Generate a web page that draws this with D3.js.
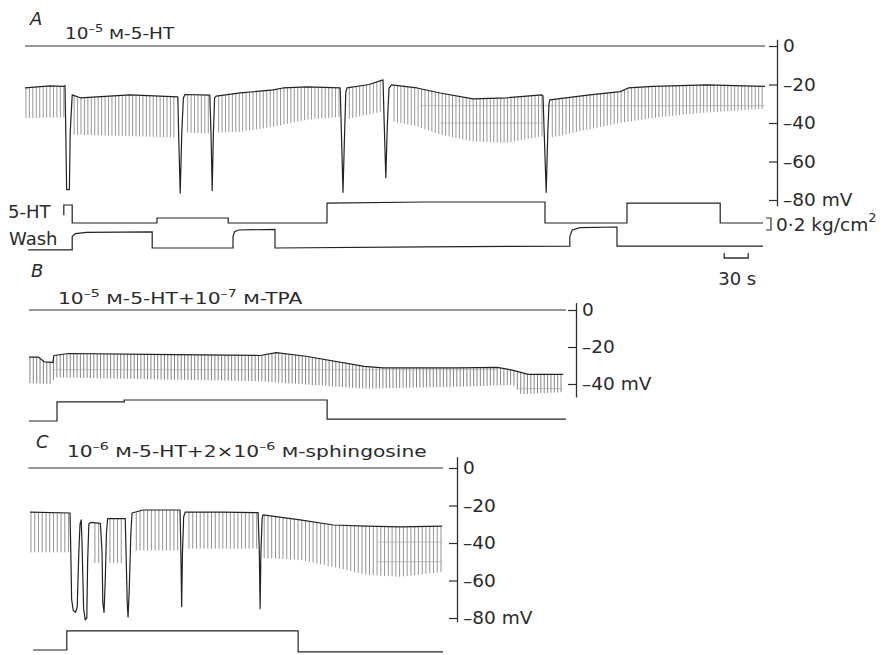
<!DOCTYPE html>
<html><head><meta charset="utf-8">
<script src="https://cdn.jsdelivr.net/npm/d3@7/dist/d3.min.js"></script>
<style>
body{margin:0;background:#fff;}
svg text{font-family:"DejaVu Sans","Liberation Sans",Arial,sans-serif;fill:#2a2a2a;}
</style></head><body>
<svg id="fig" width="890" height="655"></svg>
<script>
// ---------------- DATA (time in s, potential in mV, pressure in kg/cm2) ----------------
// Panel A : 10^-5 M-5-HT
const aTop = [[0,-21.8],[31,-20.7],[47.5,-21],[50,-20.5],[51,-45],[52,-74.6],[55.5,-74.6],[56.5,-45],[59,-25.4],[69,-26.9],[131,-25.4],[191,-26.4],
  [192,-45],[194,-76.5],[196,-45],[198,-27],[200,-25.2],[231,-25.5],[232.5,-45],[234,-75],[235.5,-45],[237,-27],[239,-26],
  [269,-24.4],[310,-22.8],[322.5,-21.8],[352.5,-21.2],[394,-21.8],[395.5,-45],[397.5,-76],[399.5,-45],[401,-24],[402.5,-21.8],
  [430,-20],[447.5,-17.6],[449,-40],[451,-68.4],[453,-40],[455,-22],[458,-20.2],[490,-21.8],[519,-24.4],[560,-27.5],[602,-26.9],[646,-25.4],
  [647.5,-26],[649,-45],[651.5,-76],[653.5,-45],[655,-30],[656,-28],[706,-25.4],[744,-23.7],[754,-21.8],[785,-21],[852,-20.2],[925,-21]];
const aBot = [[0,-37.5],[50,-37],[59,-46],[191,-47.5],[200,-45],[231,-45.5],[239,-45],[269,-44.6],[310,-42],[352.5,-38.3],[394,-36.8],
  [402.5,-38],[447.5,-34],[458,-39],[490,-41.8],[519,-46],[560,-49.6],[602,-50.3],[646,-47],[656,-47.7],[702,-43.5],[744,-40],[785,-37.3],[848,-34.7],[925,-32.5]];
const aGaps = [[50,59],[191,200],[231,239],[394,402.5],[447.5,458],[647.5,656]];
const aHLines = [[494,925,-31],[519,647,-40]];
const a5HT = [[48.5,0.13],[48.5,0.3],[59,0.3],[59,0],[165,0],[165,0.083],[254,0.083],[254,0],[377.5,0],[377.5,0.33],[500,0.35],[650,0.35],[650,0],
  [752.5,0],[752.5,0.33],[869,0.33],[869,0],[922.5,0]];
const aWash = [[4,-0.03],[59,-0.03],[59,0.19],[63,0.24],[77,0.26],[159,0.27],[159,0],[260,0],[260,0.19],[262,0.27],[267,0.3],[312.5,0.31],
  [312.5,0],[500,0.02],[681,0.03],[681,0.19],[684,0.3],[694,0.34],[740,0.35],[740,0.03],[922.5,0.03]];

// Panel B : 10^-5 M-5-HT + 10^-7 M-TPA
const bTop = [[0,-25.5],[12,-25.5],[19,-28],[30,-28.3],[31,-24.6],[50,-23.5],[150,-24],[289,-24.6],[309,-23],[346,-25],[419,-30.5],
  [442.5,-31.3],[537.5,-31.3],[585,-31],[605,-32.6],[624,-34.8],[667.5,-34.8]];
const bBot = [[0,-39.6],[30,-40],[31,-36.4],[150,-37.4],[289,-38.5],[419,-42.5],[537.5,-41.5],[605,-40.5],[615,-45.5],[667.5,-44.4]];
const bGaps = [];
const bHLines = [[31,585,-32.3],[612,667,-42.5]];
const bDrug = [[0,0],[35,0],[35,0.32],[119,0.32],[119,0.35],[372.5,0.35],[372.5,0.03],[671,0.03]];

// Panel C : 10^-6 M-5-HT + 2x10^-6 M-sphingosine
const cTop = [[0,-23.5],[50,-24],[51,-45],[52,-70],[54,-76],[57,-77],[59,-74],[61,-45],[62.5,-30],[64,-27.7],
  [65,-40],[67,-75],[69,-81],[71,-80],[72,-50],[73.5,-30],[76,-29],[88,-29.5],[90,-45],[91,-72],[92.5,-77],[94,-60],[95.5,-35],[97,-27],
  [119,-27],[120,-45],[121.5,-72],[122.5,-79.5],[124,-65],[126,-35],[127.5,-24],[141,-22.4],[187.5,-22.4],[188.5,-45],[189.5,-74],
  [190.5,-45],[192,-26],[194,-23.5],[240,-23.5],[285,-23.8],[286.5,-45],[287.5,-75],[288.5,-45],[290,-27],[291,-25],[337.5,-27.7],
  [379,-30.4],[421,-31],[462.5,-31.4],[515,-31]];
const cBot = [[0,-45],[50,-45],[76,-50.7],[88,-50.7],[97,-50.7],[119,-50.7],[127.5,-44],[187.5,-44],[194,-43],[285,-43],[291,-48],
  [337.5,-49],[379,-52.8],[421,-57],[462.5,-58],[515,-55.5]];
const cGaps = [[50,76],[88,97],[119,127.5],[187.5,194],[285,291]];
const cHLines = [[434,515,-39.5],[434,515,-50]];
const cDrug = [[4,0],[46,0],[46,0.32],[335,0.32],[335,-0.03],[516,-0.03]];

const mvTicksA = [0,-20,-40,-60,-80];
const mvTicksB = [0,-20,-40];
const mvTicksC = [0,-20,-40,-60,-80];

// ---------------- DRAWING ----------------
const svg = d3.select("#fig");
const INK = "#2e2e2e";

function rich(sel, parts, fs){
  let shift = 0;
  parts.forEach(p=>{
    const ts = sel.append("tspan").text(p.t);
    let target = 0, size = fs;
    if (p.sup){ target = -fs*0.45; size = fs*0.7; }
    if (p.sc){ size = fs*0.95; }
    ts.attr("font-size", size);
    if (target !== shift){ ts.attr("dy", target - shift); shift = target; }
  });
  return sel;
}
function fitWidth(sel, x0, width){
  const w = sel.node().getBBox().width;
  const s = width / w;
  sel.attr("transform", `translate(${x0},0) scale(${s},1) translate(${-x0},0)`);
}

function panel(cfg){
  const g = svg.append("g");
  const x = cfg.x, y = cfg.y;
  g.append("line").attr("x1", x(cfg.t0)).attr("x2", x(cfg.t1)).attr("y1", y(0)).attr("y2", y(0))
    .attr("stroke", INK).attr("stroke-width", 1.1);
  const topS = d3.scaleLinear().domain(cfg.top.map(d=>d[0])).range(cfg.top.map(d=>d[1]));
  const botS = d3.scaleLinear().domain(cfg.bot.map(d=>d[0])).range(cfg.bot.map(d=>d[1]));
  const tStart = cfg.top[0][0], tEnd = cfg.top[cfg.top.length-1][0];
  const pulses = d3.range(tStart + 1.2, tEnd, cfg.period).filter(t => !cfg.gaps.some(gp => t > gp[0]-0.8 && t < gp[1]+0.8));
  g.append("g").selectAll("line").data(pulses).join("line")
    .attr("x1", d=>x(d)).attr("x2", d=>x(d))
    .attr("y1", d=>y(topS(d))).attr("y2", d=>y(botS(d)))
    .attr("stroke", cfg.pulseColor).attr("stroke-width", 0.8);
  g.append("g").selectAll("line").data(cfg.hl).join("line")
    .attr("x1", d=>x(d[0])).attr("x2", d=>x(d[1])).attr("y1", d=>y(d[2])).attr("y2", d=>y(d[2]))
    .attr("stroke", "#a0a0a0").attr("stroke-width", 0.6);
  g.append("path").datum(cfg.top)
    .attr("d", d3.line().x(d=>x(d[0])).y(d=>y(d[1])))
    .attr("fill","none").attr("stroke", "#222").attr("stroke-width", 1.2).attr("stroke-linejoin","round");
  const ext = cfg.axExt;
  const ys = d3.scaleLinear().domain(ext).range(ext.map(v=>y(v)));
  const ax = d3.axisRight(ys).tickValues(cfg.ticks).tickSizeInner(-8).tickSizeOuter(0).tickPadding(6)
     .tickFormat(d => (d < 0 ? "\u2013" + (-d) : String(d)) + (d === cfg.unitTick ? " mV" : ""));
  const ga = g.append("g").attr("transform", `translate(${cfg.axX},0)`).call(ax)
     .attr("font-family", '"DejaVu Sans",sans-serif').attr("font-size", 18.5);
  ga.select(".domain").attr("stroke", INK).attr("stroke-width", 1.3);
  ga.selectAll(".tick line").attr("stroke", INK).attr("stroke-width", 1.2);
  ga.selectAll(".tick text").attr("fill", "#2a2a2a");
  cfg.drugs.forEach(dr=>{
    g.append("path").datum(dr.data)
      .attr("d", d3.line().x(d=>x(d[0])).y(d=>dr.p(d[1])))
      .attr("fill","none").attr("stroke", "#222").attr("stroke-width", 1.2);
  });
  g.append("text").attr("x", cfg.letterPos[0]).attr("y", cfg.letterPos[1]).attr("font-size", 18)
    .attr("font-style","italic").text(cfg.letter);
  const tt = rich(g.append("text").attr("x", cfg.titlePos[0]).attr("y", cfg.titlePos[1]), cfg.title, 15.5);
  fitWidth(tt, cfg.titlePos[0], cfg.titleW);
  return g;
}

// Panel A
const xA = d3.scaleLinear().domain([0, 925]).range([25, 765]);
const yA = d3.scaleLinear().domain([0, -80]).range([46, 200]);
const p5 = d3.scaleLinear().domain([0, 1]).range([223, 163]);
const pW = d3.scaleLinear().domain([0, 1]).range([248, 188]);
const gA = panel({x:xA, y:yA, t0:0, t1:925, top:aTop, bot:aBot, gaps:aGaps, hl:aHLines, period:4.3,
  pulseColor:"#7c7c7c",
  axX:777, axExt:[3.5,-83], ticks:mvTicksA, unitTick:-80,
  drugs:[{data:a5HT, p:p5},{data:aWash, p:pW}],
  letter:"A", letterPos:[30,25], titlePos:[65,39], titleW:110,
  title:[{t:"10"},{t:"\u20135",sup:true},{t:" "},{t:"M",sc:true},{t:"-5-HT"}]});
gA.append("text").attr("x",8).attr("y",218).attr("font-size",18).text("5-HT");
gA.append("text").attr("x",9).attr("y",245).attr("font-size",18).text("Wash");
const bx = xA(925) + 1;
gA.append("path").attr("d", `M${bx},${pW(0.5)}H${bx+5}V${pW(0.3)}H${bx}`).attr("fill","none").attr("stroke",INK).attr("stroke-width",1.2);
rich(gA.append("text").attr("x", bx+10).attr("y", pW(0.4)+6.5).attr("font-size",18.5), [{t:"0\u00b72 kg/cm"},{t:"2",sup:true}], 18.5);
const sb0 = 874, sbLen = 30;
gA.append("path").attr("d", `M${xA(sb0)},253V258H${xA(sb0+sbLen)}V253`).attr("fill","none").attr("stroke",INK).attr("stroke-width",1.3);
gA.append("text").attr("x", (xA(sb0)+xA(sb0+sbLen))/2 + 1).attr("y", 285).attr("text-anchor","middle").attr("font-size",18).text(sbLen + " s");

// Panel B
const xB = d3.scaleLinear().domain([0, 671]).range([29, 566]);
const yB = d3.scaleLinear().domain([0, -40]).range([310, 384]);
const pB = d3.scaleLinear().domain([0, 1]).range([421, 361]);
panel({x:xB, y:yB, t0:0, t1:671, top:bTop, bot:bBot, gaps:bGaps, hl:bHLines, period:4.2,
  pulseColor:"#666",
  axX:576, axExt:[4,-47], ticks:mvTicksB, unitTick:-40,
  drugs:[{data:bDrug, p:pB}],
  letter:"B", letterPos:[31,277], titlePos:[58,304], titleW:245,
  title:[{t:"10"},{t:"\u20135",sup:true},{t:" "},{t:"M",sc:true},{t:"-5-HT+10"},{t:"\u20137",sup:true},{t:" "},{t:"M",sc:true},{t:"-TPA"}]});

// Panel C
const xC = d3.scaleLinear().domain([0, 516]).range([30, 443]);
const yC = d3.scaleLinear().domain([0, -80]).range([468, 618]);
const pC = d3.scaleLinear().domain([0, 1]).range([650, 590]);
panel({x:xC, y:yC, t0:-2, t1:516, top:cTop, bot:cBot, gaps:cGaps, hl:cHLines, period:4.7,
  pulseColor:"#777",
  axX:457, axExt:[6,-82], ticks:mvTicksC, unitTick:-80,
  drugs:[{data:cDrug, p:pC}],
  letter:"C", letterPos:[36,448], titlePos:[67,457], titleW:360,
  title:[{t:"10"},{t:"\u20136",sup:true},{t:" "},{t:"M",sc:true},{t:"-5-HT+2\u00d710"},{t:"\u20136",sup:true},{t:" "},{t:"M",sc:true},{t:"-sphingosine"}]});
</script></body></html>
